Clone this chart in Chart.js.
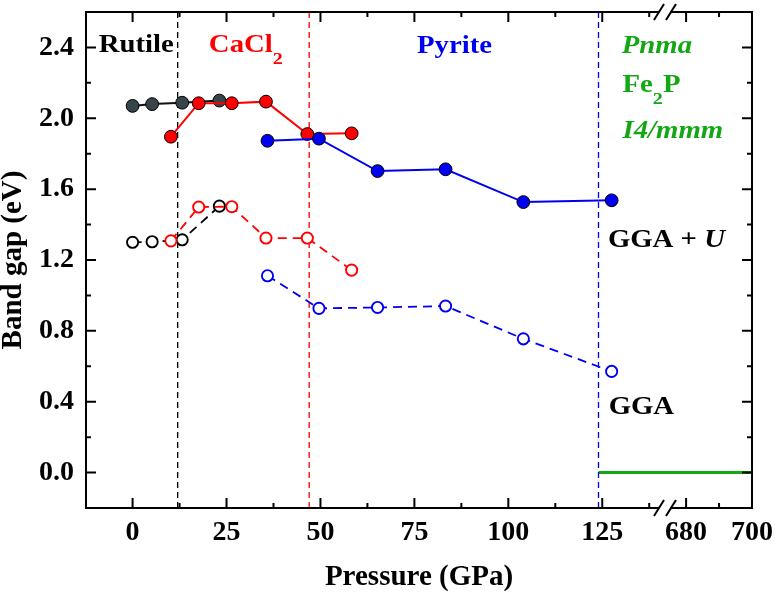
<!DOCTYPE html>
<html>
<head>
<meta charset="utf-8">
<script src="https://cdn.jsdelivr.net/npm/chart.js@4.4.0/dist/chart.umd.min.js"></script>
<style>
  html, body { margin: 0; padding: 0; background: #fff; }
  #wrap { width: 775px; height: 593px; }
</style>
</head>
<body>
<div id="wrap"><canvas id="gap-chart" width="775" height="593"></canvas></div>
<script>
// pressures (GPa) and band gaps (eV) per phase
const rutileP = [0, 5.2, 13.2, 23.1];
const rutileGGAU = [2.07, 2.08, 2.088, 2.10];
const rutileGGA = [1.30, 1.303, 1.314, 1.504];
const cacl2P = [10.2, 17.6, 26.4, 35.5, 46.5, 58.3];
const cacl2GGAU = [1.896, 2.085, 2.085, 2.094, 1.911, 1.915];
const cacl2GGA = [1.308, 1.499, 1.501, 1.324, 1.324, 1.143];
const pyriteP = [35.9, 49.6, 65.2, 83.3, 104.0, 127.5];
const pyriteGGAU = [1.873, 1.885, 1.702, 1.712, 1.527, 1.537];
const pyriteGGA = [1.111, 0.927, 0.932, 0.940, 0.755, 0.571];
// phase boundaries: rutile|CaCl2, CaCl2|pyrite, pyrite|high pressure phases
const boundaryP = [12, 47, 124];
const metallicGap = 0;

// axes (x axis is broken between 141.7 and 673.6 GPa)
const xRange = [-12.4, 141.7];
const x2Range = [673.6, 700];
const yRange = [-0.2, 2.6];
const xTicks = [0, 25, 50, 75, 100, 125];
const xMinor = [12.5, 37.5, 62.5, 87.5, 112.5, 137.5];
const x2Ticks = [680, 700];
const x2Minor = [690];
const yTicks = [0, 0.4, 0.8, 1.2, 1.6, 2.0, 2.4];
const yMinor = [0.2, 0.6, 1.0, 1.4, 1.8, 2.2];

const SERIF = '"Liberation Serif", "Times New Roman", serif';
const GREEN = '#13a813';
const BLUE = '#0000f0';
const RED = '#ff0000';
const GRAY = '#36454b';

Chart.defaults.font.family = SERIF;
Chart.defaults.color = '#000';

const notes = [
  { parts: [{ t: 'Rutile' }], p: -9.0, g: 2.376, color: '#000' },
  { parts: [{ t: 'CaCl' }, { t: '2', sub: true }], p: 20.3, g: 2.375, color: RED },
  { parts: [{ t: 'Pyrite' }], p: 75.7, g: 2.371, color: BLUE },
  { parts: [{ t: 'Pnma', italic: true }], p: 130.2, g: 2.367, color: GREEN },
  { parts: [{ t: 'Fe' }, { t: '2', sub: true }, { t: 'P' }], p: 130.4, g: 2.15, color: GREEN },
  { parts: [{ t: 'I4/mmm', italic: true }], p: 130.4, g: 1.887, color: GREEN },
  { parts: [{ t: 'GGA + ' }, { t: 'U', italic: true }], p: 126.5, g: 1.275, color: '#000' },
  { parts: [{ t: 'GGA' }], p: 126.7, g: 0.333, color: '#000' }
];

function pts(xs, ys) {
  return xs.map((x, i) => ({ x: x, y: ys[i] }));
}

function filled(data, color, line) {
  return {
    data: data, xAxisID: 'x', borderColor: line, borderWidth: 2,
    pointRadius: 6.4, pointBorderWidth: 1, pointBorderColor: '#000',
    pointBackgroundColor: color, pointHoverRadius: 6.4
  };
}

function open(data, color) {
  return {
    data: data, xAxisID: 'x', borderColor: color, borderWidth: 1.8, borderDash: [9, 6],
    pointRadius: 5.6, pointBorderWidth: 1.9, pointBorderColor: color,
    pointBackgroundColor: '#fff', pointHoverRadius: 5.6
  };
}

function boundary(p, color) {
  return {
    data: [{ x: p, y: yRange[0] }, { x: p, y: yRange[1] }], xAxisID: 'x',
    borderColor: color, borderWidth: 1.3, borderDash: [6, 4], pointRadius: 0
  };
}

function drawRich(ctx, parts, x, y, color, size) {
  ctx.save();
  ctx.translate(x, y);
  ctx.scale(1.15, 1);
  ctx.fillStyle = color;
  ctx.textBaseline = 'alphabetic';
  ctx.textAlign = 'left';
  let cx = 0;
  for (const part of parts) {
    const fs = part.sub ? size * 0.7 : size;
    ctx.font = (part.italic ? 'italic ' : '') + 'bold ' + fs + 'px ' + SERIF;
    ctx.fillText(part.t, cx, part.sub ? size * 0.48 : 0);
    cx += ctx.measureText(part.t).width;
  }
  ctx.restore();
}

const framePlugin = {
  id: 'frame',
  afterDraw(chart) {
    const ctx = chart.ctx;
    const a = chart.chartArea;
    const sx = chart.scales.x, sx2 = chart.scales.x2, sy = chart.scales.y;
    ctx.save();
    ctx.strokeStyle = '#000';
    ctx.lineWidth = 2;
    ctx.strokeRect(a.left, a.top, a.right - a.left, a.bottom - a.top);

    const vTick = (px, len) => {
      ctx.beginPath();
      ctx.moveTo(px, a.bottom); ctx.lineTo(px, a.bottom - len);
      ctx.moveTo(px, a.top); ctx.lineTo(px, a.top + len);
      ctx.stroke();
    };
    const hTick = (py, len) => {
      ctx.beginPath();
      ctx.moveTo(a.left, py); ctx.lineTo(a.left + len, py);
      ctx.moveTo(a.right, py); ctx.lineTo(a.right - len, py);
      ctx.stroke();
    };
    xTicks.forEach(v => vTick(sx.getPixelForValue(v), 10));
    xMinor.forEach(v => vTick(sx.getPixelForValue(v), 5));
    x2Ticks.forEach(v => vTick(sx2.getPixelForValue(v), 10));
    x2Minor.forEach(v => vTick(sx2.getPixelForValue(v), 5));
    yTicks.forEach(v => hTick(sy.getPixelForValue(v), 10));
    yMinor.forEach(v => hTick(sy.getPixelForValue(v), 5));

    // axis break marks
    const bx = sx.right;
    [a.bottom, a.top].forEach(by => {
      ctx.fillStyle = '#fff';
      ctx.fillRect(bx - 6, by - 2, 12, 4);
      ctx.beginPath();
      ctx.moveTo(bx - 11, by + 8); ctx.lineTo(bx - 1, by - 8);
      ctx.moveTo(bx + 1, by + 8); ctx.lineTo(bx + 11, by - 8);
      ctx.lineWidth = 2;
      ctx.stroke();
    });

    notes.forEach(n => {
      drawRich(ctx, n.parts, sx.getPixelForValue(n.p), sy.getPixelForValue(n.g), n.color, 25);
    });

    ctx.fillStyle = '#000';
    ctx.font = 'bold 29px ' + SERIF;
    ctx.textAlign = 'center';
    ctx.textBaseline = 'alphabetic';
    ctx.fillText('Pressure (GPa)', (a.left + a.right) / 2, 585);
    ctx.restore();
  }
};

const tickFont = { family: SERIF, size: 28, weight: 'bold' };

new Chart(document.getElementById('gap-chart').getContext('2d'), {
  type: 'line',
  data: {
    datasets: [
      filled(pts(pyriteP, pyriteGGAU), BLUE, BLUE),
      filled(pts(cacl2P, cacl2GGAU), RED, RED),
      filled(pts(rutileP, rutileGGAU), GRAY, '#111'),
      open(pts(pyriteP, pyriteGGA), BLUE),
      open(pts(cacl2P, cacl2GGA), RED),
      open(pts(rutileP, rutileGGA), '#000'),
      boundary(boundaryP[0], '#000'),
      boundary(boundaryP[1], RED),
      boundary(boundaryP[2], BLUE),
      {
        data: [{ x: boundaryP[2], y: metallicGap }, { x: xRange[1], y: metallicGap }],
        xAxisID: 'x', borderColor: GREEN, borderWidth: 3, pointRadius: 0
      },
      {
        data: [{ x: x2Range[0], y: metallicGap }, { x: x2Range[1], y: metallicGap }],
        xAxisID: 'x2', borderColor: GREEN, borderWidth: 3, pointRadius: 0
      }
    ]
  },
  options: {
    responsive: false,
    animation: false,
    devicePixelRatio: 1,
    layout: { padding: { left: 0, top: 12, right: 23, bottom: 0 } },
    plugins: { legend: { display: false }, tooltip: { enabled: false } },
    events: [],
    scales: {
      x: {
        type: 'linear', position: 'bottom', stack: 'pressure', stackWeight: 579,
        min: xRange[0], max: xRange[1],
        afterBuildTicks: s => { s.ticks = xTicks.map(v => ({ value: v })); },
        ticks: { font: tickFont, color: '#000', padding: 8, autoSkip: false, maxRotation: 0, callback: v => String(v) },
        grid: { display: false, drawTicks: false },
        border: { display: false },
        afterFit: s => { s.height = 85; s.paddingLeft = 0; s.paddingRight = 0; }
      },
      x2: {
        type: 'linear', position: 'bottom', stack: 'pressure', stackWeight: 87,
        min: x2Range[0], max: x2Range[1],
        afterBuildTicks: s => { s.ticks = x2Ticks.map(v => ({ value: v })); },
        ticks: { font: tickFont, color: '#000', padding: 8, autoSkip: false, maxRotation: 0, callback: v => String(v) },
        grid: { display: false, drawTicks: false },
        border: { display: false },
        afterFit: s => { s.height = 85; s.paddingLeft = 0; s.paddingRight = 0; }
      },
      y: {
        type: 'linear', position: 'left', min: yRange[0], max: yRange[1],
        afterBuildTicks: s => { s.ticks = yTicks.map(v => ({ value: v })); },
        ticks: { font: tickFont, color: '#000', padding: 12, callback: v => v.toFixed(1) },
        grid: { display: false, drawTicks: false },
        border: { display: false },
        title: {
          display: true, text: 'Band gap (eV)', color: '#000', padding: 0,
          font: { family: SERIF, size: 29, weight: 'bold', lineHeight: 0.9 }
        },
        afterFit: s => { s.width = 86; s.paddingTop = 0; s.paddingBottom = 0; }
      }
    }
  },
  plugins: [framePlugin]
});
</script>
</body>
</html>
